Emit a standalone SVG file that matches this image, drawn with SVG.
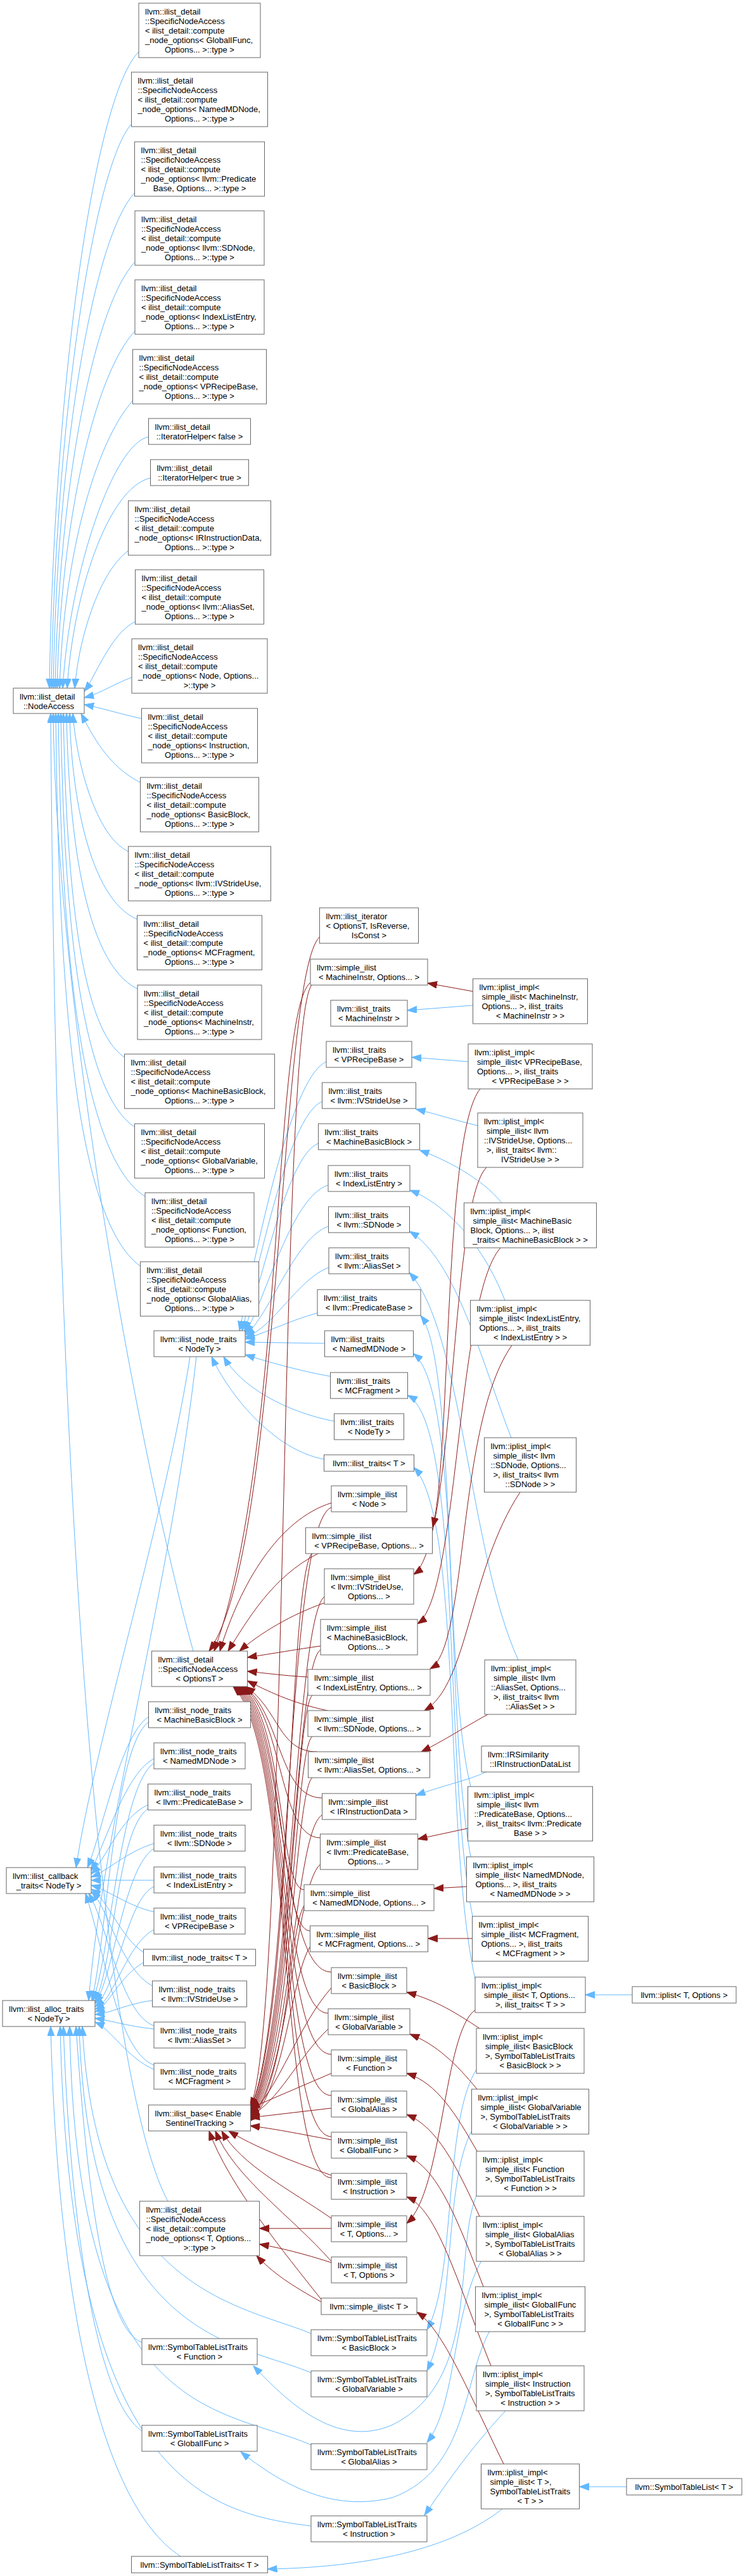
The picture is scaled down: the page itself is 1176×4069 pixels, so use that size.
<svg xmlns="http://www.w3.org/2000/svg" width="1176" height="4069" viewBox="0 0 1176 4069">
<style>
.node rect{fill:#fff;stroke:#666;stroke-width:1}
.node text{font-family:"Liberation Sans",Arial,Helvetica,sans-serif;font-size:13px;fill:#000}
.node text.c{text-anchor:middle}
.eb{fill:none;stroke:#63b8ff;stroke-width:1;marker-end:url(#ab)}
.er{fill:none;stroke:#8b1a1a;stroke-width:1;marker-end:url(#ar)}
</style>
<defs>
<marker id="ab" markerUnits="userSpaceOnUse" markerWidth="16" markerHeight="12" refX="15" refY="5.5" orient="auto"><path d="M0,0 L15,5.5 L0,11 z" fill="#63b8ff" stroke="#63b8ff"/></marker>
<marker id="ar" markerUnits="userSpaceOnUse" markerWidth="16" markerHeight="12" refX="15" refY="5.5" orient="auto"><path d="M0,0 L15,5.5 L0,11 z" fill="#8b1a1a" stroke="#8b1a1a"/></marker>
</defs>
<rect x="0" y="0" width="1176" height="4069" fill="#fff"/>
<g id="edges">
<path class="eb" d="M219,82 C150,150 85,600 78,1087"/>
<path class="eb" d="M207.5,196 C150,260 88,650 81,1087"/>
<path class="eb" d="M212.5,305 C150,370 90,700 84,1087"/>
<path class="eb" d="M213,414 C150,480 93,760 87,1087"/>
<path class="eb" d="M213,523 C150,590 96,820 90,1087"/>
<path class="eb" d="M209.5,633 C150,700 100,880 94,1087"/>
<path class="eb" d="M234.5,690 C180,700 110,900 99,1087"/>
<path class="eb" d="M237.5,755 C170,770 115,940 106,1087"/>
<path class="eb" d="M202.5,870 C160,900 125,1000 118,1087"/>
<path class="eb" d="M213.5,982 C175,1000 150,1070 133,1092"/>
<path class="eb" d="M208,1070 C180,1080 160,1095 133,1102"/>
<path class="eb" d="M223.5,1135 C190,1128 160,1118 133,1113"/>
<path class="eb" d="M221.5,1236 C170,1210 145,1160 128,1127"/>
<path class="eb" d="M202.5,1345 C150,1320 120,1200 115,1127"/>
<path class="eb" d="M216.5,1452 C140,1420 112,1250 110,1127"/>
<path class="eb" d="M217,1562 C130,1520 108,1300 105,1127"/>
<path class="eb" d="M196.5,1670 C120,1620 104,1350 100,1127"/>
<path class="eb" d="M212.5,1780 C120,1720 100,1400 96,1127"/>
<path class="eb" d="M229,1890 C120,1820 96,1450 92,1127"/>
<path class="eb" d="M221.5,2000 C110,1920 92,1500 88,1127"/>
<path class="eb" d="M305,2608 C220,2300 90,1600 84,1127"/>
<path class="eb" d="M265,3477 C170,3300 90,2500 80,1127"/>
<path class="eb" d="M515,1677 C465,1700 420,1900 378,2102"/>
<path class="eb" d="M508.5,1740 C460,1760 420,1950 382,2102"/>
<path class="eb" d="M502.5,1806 C455,1825 420,2000 386,2102"/>
<path class="eb" d="M518,1872 C460,1890 420,2050 387,2106"/>
<path class="eb" d="M518.5,1937 C465,1955 425,2080 387,2109"/>
<path class="eb" d="M519,2002 C470,2020 430,2100 387,2112"/>
<path class="eb" d="M501,2074 C460,2085 420,2105 387,2115"/>
<path class="eb" d="M512.5,2122 L387,2120"/>
<path class="eb" d="M521.5,2174 C470,2165 420,2150 387,2140"/>
<path class="eb" d="M527.5,2245 C450,2230 380,2190 353,2143"/>
<path class="eb" d="M511.5,2305 C430,2290 360,2200 334,2143"/>
<path class="eb" d="M300,2143 C260,2400 150,2750 120,2950"/>
<path class="eb" d="M310,2143 C270,2500 160,2900 140,3160"/>
<path class="eb" d="M234.5,2712 C190,2740 160,2900 138,2950"/>
<path class="eb" d="M234.5,2720 C180,2760 170,3050 145,3160"/>
<path class="eb" d="M243,2778 C200,2800 170,2900 144,2955"/>
<path class="eb" d="M243,2785 C190,2820 175,3080 147,3160"/>
<path class="eb" d="M233.5,2851 C190,2870 165,2940 144,2960"/>
<path class="eb" d="M233.5,2857 C185,2890 180,3100 150,3162"/>
<path class="eb" d="M243,2912 C200,2925 170,2955 144,2965"/>
<path class="eb" d="M243,2920 C195,2950 180,3120 150,3165"/>
<path class="eb" d="M243,2970 L144,2970"/>
<path class="eb" d="M243,2980 C200,3000 185,3140 150,3170"/>
<path class="eb" d="M243,3020 C200,3010 170,2985 144,2978"/>
<path class="eb" d="M243,3048 C200,3070 180,3160 150,3174"/>
<path class="eb" d="M226.5,3084 C190,3060 170,3000 144,2984"/>
<path class="eb" d="M226.5,3100 C190,3120 170,3170 150,3178"/>
<path class="eb" d="M240.5,3137 C190,3110 170,3010 144,2988"/>
<path class="eb" d="M240.5,3160 C200,3165 175,3180 150,3182"/>
<path class="eb" d="M243,3200 C190,3180 170,3040 140,2991"/>
<path class="eb" d="M243,3205 C200,3200 175,3192 150,3188"/>
<path class="eb" d="M243,3262 C185,3240 165,3080 135,2991"/>
<path class="eb" d="M243,3269 C200,3250 175,3205 150,3194"/>
<path class="eb" d="M224,3700 C170,3680 140,3500 120,3201"/>
<path class="eb" d="M224,3840 C150,3790 110,3500 100,3201"/>
<path class="eb" d="M285,4038 C150,3950 90,3600 80,3201"/>
<path class="eb" d="M491,3686 C380,3640 150,3620 130,3201"/>
<path class="eb" d="M491,3748 C380,3700 140,3700 125,3201"/>
<path class="eb" d="M491,3862 C350,3800 120,3830 110,3201"/>
<path class="eb" d="M491,3990 C330,3970 110,3920 95,3201"/>
<path class="eb" d="M746.5,1588 L643,1596"/>
<path class="eb" d="M739,1677 L650,1670"/>
<path class="eb" d="M754,1778 C720,1770 690,1760 656.5,1752"/>
<path class="eb" d="M792,1900 C760,1860 700,1830 662.5,1817"/>
<path class="eb" d="M797,2054 C760,1960 700,1900 647,1880"/>
<path class="eb" d="M807,2271 C760,2150 720,1990 646.5,1945"/>
<path class="eb" d="M818,2622 C740,2450 730,2100 646,2010"/>
<path class="eb" d="M743,2822 C700,2650 720,2150 664,2078"/>
<path class="eb" d="M743,2933 C700,2700 730,2200 652.5,2138"/>
<path class="eb" d="M746,3027 C700,2800 730,2250 643.5,2204"/>
<path class="eb" d="M750,3126 C700,2900 730,2400 653.5,2318"/>
<path class="eb" d="M752,3269 C700,3350 720,3600 674,3680"/>
<path class="eb" d="M745,3365 C700,3450 720,3650 674,3745"/>
<path class="eb" d="M752,3468 C715,3560 760,3760 620,3830 C530,3870 450,3790 400,3737"/>
<path class="eb" d="M760,3571 C715,3650 720,3800 674,3858"/>
<path class="eb" d="M773,3682 C730,3760 740,3900 620,3945 C520,3970 440,3920 380,3873"/>
<path class="eb" d="M798,3808 C740,3870 700,3930 670,3973"/>
<path class="eb" d="M793,3963 C720,4020 600,4055 422.5,4058"/>
<path class="eb" d="M767,2799 C740,2812 700,2820 656.5,2836"/>
<path class="eb" d="M998,3151 L924,3151"/>
<path class="eb" d="M989,3928 L914.5,3928"/>
<path class="er" d="M746.5,1566 L675,1553"/>
<path class="er" d="M758,1720 C700,1790 712,2300 683,2412"/>
<path class="er" d="M768,1844 C710,1900 720,2440 653,2487"/>
<path class="er" d="M790,1971 C720,2050 725,2520 659,2565"/>
<path class="er" d="M808,2125 C720,2250 740,2600 679,2636"/>
<path class="er" d="M821,2357 C740,2480 740,2660 670,2702"/>
<path class="er" d="M770,2708 C730,2730 700,2750 665,2767"/>
<path class="er" d="M738.5,2888 L659.5,2905"/>
<path class="er" d="M736.5,2980 L685,2983"/>
<path class="er" d="M745.5,3062 L675.5,3062"/>
<path class="er" d="M750,3175 C700,3210 700,3460 642,3512"/>
<path class="er" d="M757,3204 C720,3180 690,3160 642,3147"/>
<path class="er" d="M753,3300 C720,3260 690,3230 647,3213"/>
<path class="er" d="M753,3398 C720,3340 690,3290 642,3275"/>
<path class="er" d="M757,3501 C720,3420 690,3360 642,3340"/>
<path class="er" d="M763,3612 C720,3500 690,3425 642,3405"/>
<path class="er" d="M775,3737 C720,3600 690,3490 642,3470"/>
<path class="er" d="M795,3892 C740,3780 700,3680 658,3652"/>
<path class="er" d="M504.5,1480 C440,1540 445,2450 330,2608"/>
<path class="er" d="M490,1552 C430,1600 450,2300 338,2608"/>
<path class="er" d="M492,1556 C440,1620 455,3200 395,3328"/>
<path class="er" d="M523,2374 C440,2400 380,2500 347,2608"/>
<path class="er" d="M523,2381 C450,2410 460,3200 395,3330"/>
<path class="er" d="M502,2454 C430,2490 390,2560 360,2608"/>
<path class="er" d="M492,2454 C455,2500 460,3200 395,3332"/>
<path class="er" d="M512,2532 C460,2550 410,2580 378,2608"/>
<path class="er" d="M512,2522 C465,2560 460,3220 395,3334"/>
<path class="er" d="M506,2600 C470,2605 430,2612 390.5,2618"/>
<path class="er" d="M506,2606 C465,2630 460,3230 395,3336"/>
<path class="er" d="M486,2649 C450,2647 420,2643 390.5,2640"/>
<path class="er" d="M493,2678 C465,2700 460,3240 395,3338"/>
<path class="er" d="M517,2702 C460,2690 420,2670 390.5,2655"/>
<path class="er" d="M493,2743 C465,2760 460,3250 395,3340"/>
<path class="er" d="M500,2767 C440,2767 440,2700 388,2664"/>
<path class="er" d="M493,2808 C465,2830 460,3260 395,3342"/>
<path class="er" d="M508.5,2840 C440,2840 445,2710 386,2664"/>
<path class="er" d="M508.5,2867 C465,2890 460,3270 395,3344"/>
<path class="er" d="M505.5,2903 C440,2903 448,2715 384,2664"/>
<path class="er" d="M505.5,2945 C465,2980 458,3280 395,3346"/>
<path class="er" d="M480,2985 C440,2985 450,2720 382,2664"/>
<path class="er" d="M480,3010 C455,3050 455,3290 395,3348"/>
<path class="er" d="M489.5,3050 C440,3050 452,2725 380,2664"/>
<path class="er" d="M489.5,3075 C460,3120 450,3300 395,3350"/>
<path class="er" d="M523,3115 C440,3115 454,2730 378,2664"/>
<path class="er" d="M523,3140 C470,3200 440,3300 395,3340"/>
<path class="er" d="M518,3180 C440,3180 456,2735 376,2664"/>
<path class="er" d="M518,3205 C470,3250 440,3320 395,3342"/>
<path class="er" d="M523,3245 C440,3245 458,2740 374,2664"/>
<path class="er" d="M523,3275 L395,3330"/>
<path class="er" d="M523,3310 C440,3310 460,2745 372,2664"/>
<path class="er" d="M523,3330 L395,3345"/>
<path class="er" d="M523,3375 C440,3375 462,2750 370,2664"/>
<path class="er" d="M523,3380 C470,3370 430,3362 395,3358"/>
<path class="er" d="M523,3440 C440,3440 464,2755 368,2664"/>
<path class="er" d="M523,3436 C450,3410 400,3390 361,3366"/>
<path class="er" d="M523,3504 C460,3460 380,3420 350,3366"/>
<path class="er" d="M523,3520 L409.5,3520"/>
<path class="er" d="M523,3572 C460,3500 370,3440 340,3366"/>
<path class="er" d="M523,3574 C480,3560 440,3550 409.5,3545"/>
<path class="er" d="M507,3632 C450,3560 360,3450 330,3366"/>
<path class="er" d="M507,3636 C460,3610 430,3590 405,3563"/>
</g>
<g id="NA" class="node"><rect x="21" y="1087" width="112" height="40"/><text x="31" y="1105">llvm::ilist_detail</text><text class="c" x="77" y="1120">::NodeAccess</text></g>
<g id="CB" class="node"><rect x="10" y="2950" width="134" height="41"/><text x="20" y="2968">llvm::ilist_callback</text><text class="c" x="77" y="2983">_traits&lt; NodeTy &gt;</text></g>
<g id="AL" class="node"><rect x="4" y="3160" width="146" height="41"/><text x="14" y="3178">llvm::ilist_alloc_traits</text><text class="c" x="77" y="3193">&lt; NodeTy &gt;</text></g>
<g id="N1" class="node"><rect x="219" y="5" width="192" height="86"/><text x="229" y="23">llvm::ilist_detail</text><text x="229" y="38">::SpecificNodeAccess</text><text x="229" y="53">&lt; ilist_detail::compute</text><text x="229" y="68">_node_options&lt; GlobalIFunc,</text><text class="c" x="315" y="83">Options... &gt;::type &gt;</text></g>
<g id="N2" class="node"><rect x="207.5" y="114" width="215" height="86"/><text x="217.5" y="132">llvm::ilist_detail</text><text x="217.5" y="147">::SpecificNodeAccess</text><text x="217.5" y="162">&lt; ilist_detail::compute</text><text x="217.5" y="177">_node_options&lt; NamedMDNode,</text><text class="c" x="315" y="192">Options... &gt;::type &gt;</text></g>
<g id="N3" class="node"><rect x="212.5" y="224" width="205" height="86"/><text x="222.5" y="242">llvm::ilist_detail</text><text x="222.5" y="257">::SpecificNodeAccess</text><text x="222.5" y="272">&lt; ilist_detail::compute</text><text x="222.5" y="287">_node_options&lt; llvm::Predicate</text><text class="c" x="315" y="302">Base, Options... &gt;::type &gt;</text></g>
<g id="N4" class="node"><rect x="213" y="333" width="204" height="86"/><text x="223" y="351">llvm::ilist_detail</text><text x="223" y="366">::SpecificNodeAccess</text><text x="223" y="381">&lt; ilist_detail::compute</text><text x="223" y="396">_node_options&lt; llvm::SDNode,</text><text class="c" x="315" y="411">Options... &gt;::type &gt;</text></g>
<g id="N5" class="node"><rect x="213" y="442" width="204" height="86"/><text x="223" y="460">llvm::ilist_detail</text><text x="223" y="475">::SpecificNodeAccess</text><text x="223" y="490">&lt; ilist_detail::compute</text><text x="223" y="505">_node_options&lt; IndexListEntry,</text><text class="c" x="315" y="520">Options... &gt;::type &gt;</text></g>
<g id="N6" class="node"><rect x="209.5" y="552" width="211" height="86"/><text x="219.5" y="570">llvm::ilist_detail</text><text x="219.5" y="585">::SpecificNodeAccess</text><text x="219.5" y="600">&lt; ilist_detail::compute</text><text x="219.5" y="615">_node_options&lt; VPRecipeBase,</text><text class="c" x="315" y="630">Options... &gt;::type &gt;</text></g>
<g id="N7" class="node"><rect x="234.5" y="661" width="161" height="41"/><text x="244.5" y="679">llvm::ilist_detail</text><text class="c" x="315" y="694">::IteratorHelper&lt; false &gt;</text></g>
<g id="N8" class="node"><rect x="237.5" y="726" width="155" height="41"/><text x="247.5" y="744">llvm::ilist_detail</text><text class="c" x="315" y="759">::IteratorHelper&lt; true &gt;</text></g>
<g id="N9" class="node"><rect x="202.5" y="791" width="225" height="86"/><text x="212.5" y="809">llvm::ilist_detail</text><text x="212.5" y="824">::SpecificNodeAccess</text><text x="212.5" y="839">&lt; ilist_detail::compute</text><text x="212.5" y="854">_node_options&lt; IRInstructionData,</text><text class="c" x="315" y="869">Options... &gt;::type &gt;</text></g>
<g id="N10" class="node"><rect x="213.5" y="900" width="203" height="86"/><text x="223.5" y="918">llvm::ilist_detail</text><text x="223.5" y="933">::SpecificNodeAccess</text><text x="223.5" y="948">&lt; ilist_detail::compute</text><text x="223.5" y="963">_node_options&lt; llvm::AliasSet,</text><text class="c" x="315" y="978">Options... &gt;::type &gt;</text></g>
<g id="N11" class="node"><rect x="208" y="1009" width="214" height="86"/><text x="218" y="1027">llvm::ilist_detail</text><text x="218" y="1042">::SpecificNodeAccess</text><text x="218" y="1057">&lt; ilist_detail::compute</text><text x="218" y="1072">_node_options&lt; Node, Options...</text><text class="c" x="315" y="1087">&gt;::type &gt;</text></g>
<g id="N12" class="node"><rect x="223.5" y="1119" width="183" height="86"/><text x="233.5" y="1137">llvm::ilist_detail</text><text x="233.5" y="1152">::SpecificNodeAccess</text><text x="233.5" y="1167">&lt; ilist_detail::compute</text><text x="233.5" y="1182">_node_options&lt; Instruction,</text><text class="c" x="315" y="1197">Options... &gt;::type &gt;</text></g>
<g id="N13" class="node"><rect x="221.5" y="1228" width="187" height="86"/><text x="231.5" y="1246">llvm::ilist_detail</text><text x="231.5" y="1261">::SpecificNodeAccess</text><text x="231.5" y="1276">&lt; ilist_detail::compute</text><text x="231.5" y="1291">_node_options&lt; BasicBlock,</text><text class="c" x="315" y="1306">Options... &gt;::type &gt;</text></g>
<g id="N14" class="node"><rect x="202.5" y="1337" width="225" height="86"/><text x="212.5" y="1355">llvm::ilist_detail</text><text x="212.5" y="1370">::SpecificNodeAccess</text><text x="212.5" y="1385">&lt; ilist_detail::compute</text><text x="212.5" y="1400">_node_options&lt; llvm::IVStrideUse,</text><text class="c" x="315" y="1415">Options... &gt;::type &gt;</text></g>
<g id="N15" class="node"><rect x="216.5" y="1446" width="197" height="86"/><text x="226.5" y="1464">llvm::ilist_detail</text><text x="226.5" y="1479">::SpecificNodeAccess</text><text x="226.5" y="1494">&lt; ilist_detail::compute</text><text x="226.5" y="1509">_node_options&lt; MCFragment,</text><text class="c" x="315" y="1524">Options... &gt;::type &gt;</text></g>
<g id="N16" class="node"><rect x="217" y="1556" width="196" height="86"/><text x="227" y="1574">llvm::ilist_detail</text><text x="227" y="1589">::SpecificNodeAccess</text><text x="227" y="1604">&lt; ilist_detail::compute</text><text x="227" y="1619">_node_options&lt; MachineInstr,</text><text class="c" x="315" y="1634">Options... &gt;::type &gt;</text></g>
<g id="N17" class="node"><rect x="196.5" y="1665" width="237" height="86"/><text x="206.5" y="1683">llvm::ilist_detail</text><text x="206.5" y="1698">::SpecificNodeAccess</text><text x="206.5" y="1713">&lt; ilist_detail::compute</text><text x="206.5" y="1728">_node_options&lt; MachineBasicBlock,</text><text class="c" x="315" y="1743">Options... &gt;::type &gt;</text></g>
<g id="N18" class="node"><rect x="212.5" y="1775" width="205" height="86"/><text x="222.5" y="1793">llvm::ilist_detail</text><text x="222.5" y="1808">::SpecificNodeAccess</text><text x="222.5" y="1823">&lt; ilist_detail::compute</text><text x="222.5" y="1838">_node_options&lt; GlobalVariable,</text><text class="c" x="315" y="1853">Options... &gt;::type &gt;</text></g>
<g id="N19" class="node"><rect x="229" y="1884" width="172" height="86"/><text x="239" y="1902">llvm::ilist_detail</text><text x="239" y="1917">::SpecificNodeAccess</text><text x="239" y="1932">&lt; ilist_detail::compute</text><text x="239" y="1947">_node_options&lt; Function,</text><text class="c" x="315" y="1962">Options... &gt;::type &gt;</text></g>
<g id="N20" class="node"><rect x="221.5" y="1993" width="187" height="86"/><text x="231.5" y="2011">llvm::ilist_detail</text><text x="231.5" y="2026">::SpecificNodeAccess</text><text x="231.5" y="2041">&lt; ilist_detail::compute</text><text x="231.5" y="2056">_node_options&lt; GlobalAlias,</text><text class="c" x="315" y="2071">Options... &gt;::type &gt;</text></g>
<g id="B1" class="node"><rect x="243" y="2102" width="144" height="41"/><text x="253" y="2120">llvm::ilist_node_traits</text><text class="c" x="315" y="2135">&lt; NodeTy &gt;</text></g>
<g id="B2" class="node"><rect x="239.5" y="2608" width="151" height="56"/><text x="249.5" y="2626">llvm::ilist_detail</text><text x="249.5" y="2641">::SpecificNodeAccess</text><text class="c" x="315" y="2656">&lt; OptionsT &gt;</text></g>
<g id="B3" class="node"><rect x="234.5" y="2688" width="161" height="41"/><text x="244.5" y="2706">llvm::ilist_node_traits</text><text class="c" x="315" y="2721">&lt; MachineBasicBlock &gt;</text></g>
<g id="B4" class="node"><rect x="243" y="2753" width="144" height="41"/><text x="253" y="2771">llvm::ilist_node_traits</text><text class="c" x="315" y="2786">&lt; NamedMDNode &gt;</text></g>
<g id="B5" class="node"><rect x="233.5" y="2818" width="163" height="41"/><text x="243.5" y="2836">llvm::ilist_node_traits</text><text class="c" x="315" y="2851">&lt; llvm::PredicateBase &gt;</text></g>
<g id="B6" class="node"><rect x="243" y="2883" width="144" height="41"/><text x="253" y="2901">llvm::ilist_node_traits</text><text class="c" x="315" y="2916">&lt; llvm::SDNode &gt;</text></g>
<g id="B7" class="node"><rect x="243" y="2949" width="144" height="41"/><text x="253" y="2967">llvm::ilist_node_traits</text><text class="c" x="315" y="2982">&lt; IndexListEntry &gt;</text></g>
<g id="B8" class="node"><rect x="243" y="3014" width="144" height="41"/><text x="253" y="3032">llvm::ilist_node_traits</text><text class="c" x="315" y="3047">&lt; VPRecipeBase &gt;</text></g>
<g id="B9" class="node"><rect x="226.5" y="3079" width="177" height="26"/><text class="c" x="315" y="3097">llvm::ilist_node_traits&lt; T &gt;</text></g>
<g id="B10" class="node"><rect x="240.5" y="3129" width="149" height="41"/><text x="250.5" y="3147">llvm::ilist_node_traits</text><text class="c" x="315" y="3162">&lt; llvm::IVStrideUse &gt;</text></g>
<g id="B11" class="node"><rect x="243" y="3194" width="144" height="41"/><text x="253" y="3212">llvm::ilist_node_traits</text><text class="c" x="315" y="3227">&lt; llvm::AliasSet &gt;</text></g>
<g id="B12" class="node"><rect x="243" y="3259" width="144" height="41"/><text x="253" y="3277">llvm::ilist_node_traits</text><text class="c" x="315" y="3292">&lt; MCFragment &gt;</text></g>
<g id="B13" class="node"><rect x="234.5" y="3325" width="161" height="41"/><text x="244.5" y="3343">llvm::ilist_base&lt; Enable</text><text class="c" x="315" y="3358">SentinelTracking &gt;</text></g>
<g id="B14" class="node"><rect x="220.5" y="3477" width="189" height="86"/><text x="230.5" y="3495">llvm::ilist_detail</text><text x="230.5" y="3510">::SpecificNodeAccess</text><text x="230.5" y="3525">&lt; ilist_detail::compute</text><text x="230.5" y="3540">_node_options&lt; T, Options...</text><text class="c" x="315" y="3555">&gt;::type &gt;</text></g>
<g id="B15" class="node"><rect x="224" y="3694" width="182" height="41"/><text x="234" y="3712">llvm::SymbolTableListTraits</text><text class="c" x="315" y="3727">&lt; Function &gt;</text></g>
<g id="B16" class="node"><rect x="224" y="3831" width="182" height="41"/><text x="234" y="3849">llvm::SymbolTableListTraits</text><text class="c" x="315" y="3864">&lt; GlobalIFunc &gt;</text></g>
<g id="B17" class="node"><rect x="207.5" y="4038" width="215" height="26"/><text class="c" x="315" y="4056">llvm::SymbolTableListTraits&lt; T &gt;</text></g>
<g id="C1" class="node"><rect x="504.5" y="1434" width="156" height="56"/><text x="514.5" y="1452">llvm::ilist_iterator</text><text x="514.5" y="1467">&lt; OptionsT, IsReverse,</text><text class="c" x="582.5" y="1482">IsConst &gt;</text></g>
<g id="C2" class="node"><rect x="490" y="1515" width="185" height="41"/><text x="500" y="1533">llvm::simple_ilist</text><text class="c" x="582.5" y="1548">&lt; MachineInstr, Options... &gt;</text></g>
<g id="C3" class="node"><rect x="522" y="1580" width="121" height="41"/><text x="532" y="1598">llvm::ilist_traits</text><text class="c" x="582.5" y="1613">&lt; MachineInstr &gt;</text></g>
<g id="C4" class="node"><rect x="515" y="1645" width="135" height="41"/><text x="525" y="1663">llvm::ilist_traits</text><text class="c" x="582.5" y="1678">&lt; VPRecipeBase &gt;</text></g>
<g id="C5" class="node"><rect x="508.5" y="1710" width="148" height="41"/><text x="518.5" y="1728">llvm::ilist_traits</text><text class="c" x="582.5" y="1743">&lt; llvm::IVStrideUse &gt;</text></g>
<g id="C6" class="node"><rect x="502.5" y="1775" width="160" height="41"/><text x="512.5" y="1793">llvm::ilist_traits</text><text class="c" x="582.5" y="1808">&lt; MachineBasicBlock &gt;</text></g>
<g id="C7" class="node"><rect x="518" y="1841" width="129" height="41"/><text x="528" y="1859">llvm::ilist_traits</text><text class="c" x="582.5" y="1874">&lt; IndexListEntry &gt;</text></g>
<g id="C8" class="node"><rect x="518.5" y="1906" width="128" height="41"/><text x="528.5" y="1924">llvm::ilist_traits</text><text class="c" x="582.5" y="1939">&lt; llvm::SDNode &gt;</text></g>
<g id="C9" class="node"><rect x="519" y="1971" width="127" height="41"/><text x="529" y="1989">llvm::ilist_traits</text><text class="c" x="582.5" y="2004">&lt; llvm::AliasSet &gt;</text></g>
<g id="C10" class="node"><rect x="501" y="2037" width="163" height="41"/><text x="511" y="2055">llvm::ilist_traits</text><text class="c" x="582.5" y="2070">&lt; llvm::PredicateBase &gt;</text></g>
<g id="C11" class="node"><rect x="512.5" y="2102" width="140" height="41"/><text x="522.5" y="2120">llvm::ilist_traits</text><text class="c" x="582.5" y="2135">&lt; NamedMDNode &gt;</text></g>
<g id="C12" class="node"><rect x="521.5" y="2168" width="122" height="41"/><text x="531.5" y="2186">llvm::ilist_traits</text><text class="c" x="582.5" y="2201">&lt; MCFragment &gt;</text></g>
<g id="C13" class="node"><rect x="527.5" y="2233" width="110" height="41"/><text x="537.5" y="2251">llvm::ilist_traits</text><text class="c" x="582.5" y="2266">&lt; NodeTy &gt;</text></g>
<g id="C14" class="node"><rect x="511.5" y="2298" width="142" height="26"/><text class="c" x="582.5" y="2316">llvm::ilist_traits&lt; T &gt;</text></g>
<g id="C15" class="node"><rect x="523" y="2347" width="119" height="41"/><text x="533" y="2365">llvm::simple_ilist</text><text class="c" x="582.5" y="2380">&lt; Node &gt;</text></g>
<g id="C16" class="node"><rect x="482.5" y="2413" width="200" height="41"/><text x="492.5" y="2431">llvm::simple_ilist</text><text class="c" x="582.5" y="2446">&lt; VPRecipeBase, Options... &gt;</text></g>
<g id="C17" class="node"><rect x="512" y="2478" width="141" height="56"/><text x="522" y="2496">llvm::simple_ilist</text><text x="522" y="2511">&lt; llvm::IVStrideUse,</text><text class="c" x="582.5" y="2526">Options... &gt;</text></g>
<g id="C18" class="node"><rect x="506" y="2558" width="153" height="56"/><text x="516" y="2576">llvm::simple_ilist</text><text x="516" y="2591">&lt; MachineBasicBlock,</text><text class="c" x="582.5" y="2606">Options... &gt;</text></g>
<g id="C19" class="node"><rect x="486" y="2637" width="193" height="41"/><text x="496" y="2655">llvm::simple_ilist</text><text class="c" x="582.5" y="2670">&lt; IndexListEntry, Options... &gt;</text></g>
<g id="C20" class="node"><rect x="486" y="2702" width="193" height="41"/><text x="496" y="2720">llvm::simple_ilist</text><text class="c" x="582.5" y="2735">&lt; llvm::SDNode, Options... &gt;</text></g>
<g id="C21" class="node"><rect x="486.5" y="2767" width="192" height="41"/><text x="496.5" y="2785">llvm::simple_ilist</text><text class="c" x="582.5" y="2800">&lt; llvm::AliasSet, Options... &gt;</text></g>
<g id="C22" class="node"><rect x="508.5" y="2833" width="148" height="41"/><text x="518.5" y="2851">llvm::simple_ilist</text><text class="c" x="582.5" y="2866">&lt; IRInstructionData &gt;</text></g>
<g id="C23" class="node"><rect x="505.5" y="2897" width="154" height="56"/><text x="515.5" y="2915">llvm::simple_ilist</text><text x="515.5" y="2930">&lt; llvm::PredicateBase,</text><text class="c" x="582.5" y="2945">Options... &gt;</text></g>
<g id="C24" class="node"><rect x="480" y="2977" width="205" height="41"/><text x="490" y="2995">llvm::simple_ilist</text><text class="c" x="582.5" y="3010">&lt; NamedMDNode, Options... &gt;</text></g>
<g id="C25" class="node"><rect x="489.5" y="3042" width="186" height="41"/><text x="499.5" y="3060">llvm::simple_ilist</text><text class="c" x="582.5" y="3075">&lt; MCFragment, Options... &gt;</text></g>
<g id="C26" class="node"><rect x="523" y="3108" width="119" height="41"/><text x="533" y="3126">llvm::simple_ilist</text><text class="c" x="582.5" y="3141">&lt; BasicBlock &gt;</text></g>
<g id="C27" class="node"><rect x="518" y="3173" width="129" height="41"/><text x="528" y="3191">llvm::simple_ilist</text><text class="c" x="582.5" y="3206">&lt; GlobalVariable &gt;</text></g>
<g id="C28" class="node"><rect x="523" y="3238" width="119" height="41"/><text x="533" y="3256">llvm::simple_ilist</text><text class="c" x="582.5" y="3271">&lt; Function &gt;</text></g>
<g id="C29" class="node"><rect x="523" y="3303" width="119" height="41"/><text x="533" y="3321">llvm::simple_ilist</text><text class="c" x="582.5" y="3336">&lt; GlobalAlias &gt;</text></g>
<g id="C30" class="node"><rect x="523" y="3368" width="119" height="41"/><text x="533" y="3386">llvm::simple_ilist</text><text class="c" x="582.5" y="3401">&lt; GlobalIFunc &gt;</text></g>
<g id="C31" class="node"><rect x="523" y="3433" width="119" height="41"/><text x="533" y="3451">llvm::simple_ilist</text><text class="c" x="582.5" y="3466">&lt; Instruction &gt;</text></g>
<g id="C32" class="node"><rect x="523" y="3500" width="119" height="41"/><text x="533" y="3518">llvm::simple_ilist</text><text class="c" x="582.5" y="3533">&lt; T, Options... &gt;</text></g>
<g id="C33" class="node"><rect x="523" y="3565" width="119" height="41"/><text x="533" y="3583">llvm::simple_ilist</text><text class="c" x="582.5" y="3598">&lt; T, Options &gt;</text></g>
<g id="C34" class="node"><rect x="507" y="3630" width="151" height="26"/><text class="c" x="582.5" y="3648">llvm::simple_ilist&lt; T &gt;</text></g>
<g id="C35" class="node"><rect x="491" y="3680" width="183" height="41"/><text x="501" y="3698">llvm::SymbolTableListTraits</text><text class="c" x="582.5" y="3713">&lt; BasicBlock &gt;</text></g>
<g id="C36" class="node"><rect x="491" y="3745" width="183" height="41"/><text x="501" y="3763">llvm::SymbolTableListTraits</text><text class="c" x="582.5" y="3778">&lt; GlobalVariable &gt;</text></g>
<g id="C37" class="node"><rect x="491" y="3860" width="183" height="41"/><text x="501" y="3878">llvm::SymbolTableListTraits</text><text class="c" x="582.5" y="3893">&lt; GlobalAlias &gt;</text></g>
<g id="C38" class="node"><rect x="491" y="3974" width="183" height="41"/><text x="501" y="3992">llvm::SymbolTableListTraits</text><text class="c" x="582.5" y="4007">&lt; Instruction &gt;</text></g>
<g id="D1" class="node"><rect x="746.5" y="1546" width="181" height="71"/><text x="756.5" y="1564">llvm::iplist_impl&lt;</text><text x="760.5" y="1579">simple_ilist&lt; MachineInstr,</text><text x="760.5" y="1594">Options... &gt;, ilist_traits</text><text class="c" x="837" y="1609">&lt; MachineInstr &gt; &gt;</text></g>
<g id="D2" class="node"><rect x="739" y="1649" width="196" height="71"/><text x="749" y="1667">llvm::iplist_impl&lt;</text><text x="753" y="1682">simple_ilist&lt; VPRecipeBase,</text><text x="753" y="1697">Options... &gt;, ilist_traits</text><text class="c" x="837" y="1712">&lt; VPRecipeBase &gt; &gt;</text></g>
<g id="D3" class="node"><rect x="754" y="1758" width="166" height="86"/><text x="764" y="1776">llvm::iplist_impl&lt;</text><text x="768" y="1791">simple_ilist&lt; llvm</text><text x="764" y="1806">::IVStrideUse, Options...</text><text x="768" y="1821">&gt;, ilist_traits&lt; llvm::</text><text class="c" x="837" y="1836">IVStrideUse &gt; &gt;</text></g>
<g id="D4" class="node"><rect x="732.5" y="1900" width="209" height="71"/><text x="742.5" y="1918">llvm::iplist_impl&lt;</text><text x="746.5" y="1933">simple_ilist&lt; MachineBasic</text><text x="742.5" y="1948">Block, Options... &gt;, ilist</text><text class="c" x="837" y="1963">_traits&lt; MachineBasicBlock &gt; &gt;</text></g>
<g id="D5" class="node"><rect x="742.5" y="2054" width="189" height="71"/><text x="752.5" y="2072">llvm::iplist_impl&lt;</text><text x="756.5" y="2087">simple_ilist&lt; IndexListEntry,</text><text x="756.5" y="2102">Options... &gt;, ilist_traits</text><text class="c" x="837" y="2117">&lt; IndexListEntry &gt; &gt;</text></g>
<g id="D6" class="node"><rect x="764.5" y="2271" width="145" height="86"/><text x="774.5" y="2289">llvm::iplist_impl&lt;</text><text x="778.5" y="2304">simple_ilist&lt; llvm</text><text x="774.5" y="2319">::SDNode, Options...</text><text x="778.5" y="2334">&gt;, ilist_traits&lt; llvm</text><text class="c" x="837" y="2349">::SDNode &gt; &gt;</text></g>
<g id="D7" class="node"><rect x="765" y="2622" width="144" height="86"/><text x="775" y="2640">llvm::iplist_impl&lt;</text><text x="779" y="2655">simple_ilist&lt; llvm</text><text x="775" y="2670">::AliasSet, Options...</text><text x="779" y="2685">&gt;, ilist_traits&lt; llvm</text><text class="c" x="837" y="2700">::AliasSet &gt; &gt;</text></g>
<g id="D8" class="node"><rect x="760" y="2758" width="154" height="41"/><text x="770" y="2776">llvm::IRSimilarity</text><text class="c" x="837" y="2791">::IRInstructionDataList</text></g>
<g id="D9" class="node"><rect x="738.5" y="2822" width="197" height="86"/><text x="748.5" y="2840">llvm::iplist_impl&lt;</text><text x="752.5" y="2855">simple_ilist&lt; llvm</text><text x="748.5" y="2870">::PredicateBase, Options...</text><text x="752.5" y="2885">&gt;, ilist_traits&lt; llvm::Predicate</text><text class="c" x="837" y="2900">Base &gt; &gt;</text></g>
<g id="D10" class="node"><rect x="736.5" y="2933" width="201" height="71"/><text x="746.5" y="2951">llvm::iplist_impl&lt;</text><text x="750.5" y="2966">simple_ilist&lt; NamedMDNode,</text><text x="750.5" y="2981">Options... &gt;, ilist_traits</text><text class="c" x="837" y="2996">&lt; NamedMDNode &gt; &gt;</text></g>
<g id="D11" class="node"><rect x="745.5" y="3027" width="183" height="71"/><text x="755.5" y="3045">llvm::iplist_impl&lt;</text><text x="759.5" y="3060">simple_ilist&lt; MCFragment,</text><text x="759.5" y="3075">Options... &gt;, ilist_traits</text><text class="c" x="837" y="3090">&lt; MCFragment &gt; &gt;</text></g>
<g id="D12" class="node"><rect x="750" y="3123" width="174" height="56"/><text x="760" y="3141">llvm::iplist_impl&lt;</text><text x="764" y="3156">simple_ilist&lt; T, Options...</text><text class="c" x="837" y="3171">&gt;, ilist_traits&lt; T &gt; &gt;</text></g>
<g id="D13" class="node"><rect x="752" y="3204" width="170" height="71"/><text x="762" y="3222">llvm::iplist_impl&lt;</text><text x="766" y="3237">simple_ilist&lt; BasicBlock</text><text x="766" y="3252">&gt;, SymbolTableListTraits</text><text class="c" x="837" y="3267">&lt; BasicBlock &gt; &gt;</text></g>
<g id="D14" class="node"><rect x="744.5" y="3300" width="185" height="71"/><text x="754.5" y="3318">llvm::iplist_impl&lt;</text><text x="758.5" y="3333">simple_ilist&lt; GlobalVariable</text><text x="758.5" y="3348">&gt;, SymbolTableListTraits</text><text class="c" x="837" y="3363">&lt; GlobalVariable &gt; &gt;</text></g>
<g id="D15" class="node"><rect x="752" y="3398" width="170" height="71"/><text x="762" y="3416">llvm::iplist_impl&lt;</text><text x="766" y="3431">simple_ilist&lt; Function</text><text x="766" y="3446">&gt;, SymbolTableListTraits</text><text class="c" x="837" y="3461">&lt; Function &gt; &gt;</text></g>
<g id="D16" class="node"><rect x="752" y="3501" width="170" height="71"/><text x="762" y="3519">llvm::iplist_impl&lt;</text><text x="766" y="3534">simple_ilist&lt; GlobalAlias</text><text x="766" y="3549">&gt;, SymbolTableListTraits</text><text class="c" x="837" y="3564">&lt; GlobalAlias &gt; &gt;</text></g>
<g id="D17" class="node"><rect x="750.5" y="3612" width="173" height="71"/><text x="760.5" y="3630">llvm::iplist_impl&lt;</text><text x="764.5" y="3645">simple_ilist&lt; GlobalIFunc</text><text x="764.5" y="3660">&gt;, SymbolTableListTraits</text><text class="c" x="837" y="3675">&lt; GlobalIFunc &gt; &gt;</text></g>
<g id="D18" class="node"><rect x="752" y="3737" width="170" height="71"/><text x="762" y="3755">llvm::iplist_impl&lt;</text><text x="766" y="3770">simple_ilist&lt; Instruction</text><text x="766" y="3785">&gt;, SymbolTableListTraits</text><text class="c" x="837" y="3800">&lt; Instruction &gt; &gt;</text></g>
<g id="D19" class="node"><rect x="759.5" y="3892" width="155" height="71"/><text x="769.5" y="3910">llvm::iplist_impl&lt;</text><text x="773.5" y="3925">simple_ilist&lt; T &gt;,</text><text x="773.5" y="3940">SymbolTableListTraits</text><text class="c" x="837" y="3955">&lt; T &gt; &gt;</text></g>
<g id="E1" class="node"><rect x="998" y="3138" width="164" height="26"/><text class="c" x="1080" y="3156">llvm::iplist&lt; T, Options &gt;</text></g>
<g id="E2" class="node"><rect x="989" y="3915" width="182" height="26"/><text class="c" x="1080" y="3933">llvm::SymbolTableList&lt; T &gt;</text></g>
</svg>
